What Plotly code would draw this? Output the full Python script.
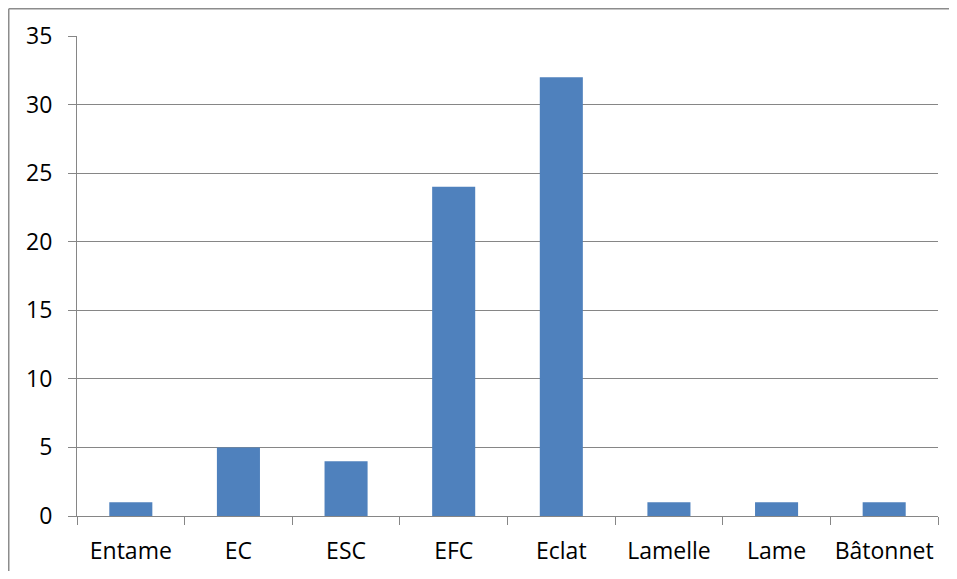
import plotly.graph_objects as go

categories = ["Entame", "EC", "ESC", "EFC", "Eclat", "Lamelle", "Lame", "Bâtonnet"]
values = [1, 5, 4, 24, 32, 1, 1, 1]
y_ticks = [0, 5, 10, 15, 20, 25, 30, 35]

# page has an 8px body margin; figure placed at (8, 8)
W, H = 941, 563
L, R, T, B = 69, 11, 28, 55
pw, ph = W - L - R, H - T - B
grid = "#868686"

fig = go.Figure(go.Bar(x=categories, y=values, marker=dict(color="#4F81BD", line=dict(width=0))))

fig.update_layout(
    width=W, height=H,
    margin=dict(l=L, r=R, t=T, b=B, pad=0, autoexpand=False),
    paper_bgcolor="white", plot_bgcolor="white",
    bargap=0.6, showlegend=False,
    font=dict(family="Open Sans, Noto Sans, sans-serif", size=23, color="black"),
    xaxis=dict(
        showline=True, linecolor=grid, linewidth=1, tickangle=0, automargin=False,
        ticks="outside", tickson="boundaries", ticklen=8, tickcolor=grid, tickwidth=1,
        ticklabelstandoff=14, showgrid=False,
    ),
    yaxis=dict(
        range=[0, 35], tickvals=y_ticks, showline=True, linecolor=grid, linewidth=1,
        automargin=False,
        ticks="outside", ticklen=8, tickcolor=grid, tickwidth=1,
        showgrid=True, gridcolor=grid, gridwidth=1, zeroline=False,
        ticklabelstandoff=11,
    ),
)

# chart-area border (top and left edges visible in the reference)
bx0 = (0.75 - L) / pw
bx1 = (W + 5 - L) / pw
by0 = (H - B - (H + 5)) / ph
by1 = (H - B - 0.75) / ph
border = dict(color="#8c8c8c", width=1.5)
fig.add_shape(type="line", xref="paper", yref="paper", x0=bx0, x1=bx1, y0=by1, y1=by1, line=border, layer="below")
fig.add_shape(type="line", xref="paper", yref="paper", x0=bx0, x1=bx0, y0=by0, y1=by1, line=border, layer="below")

fig.write_html("out.html")
